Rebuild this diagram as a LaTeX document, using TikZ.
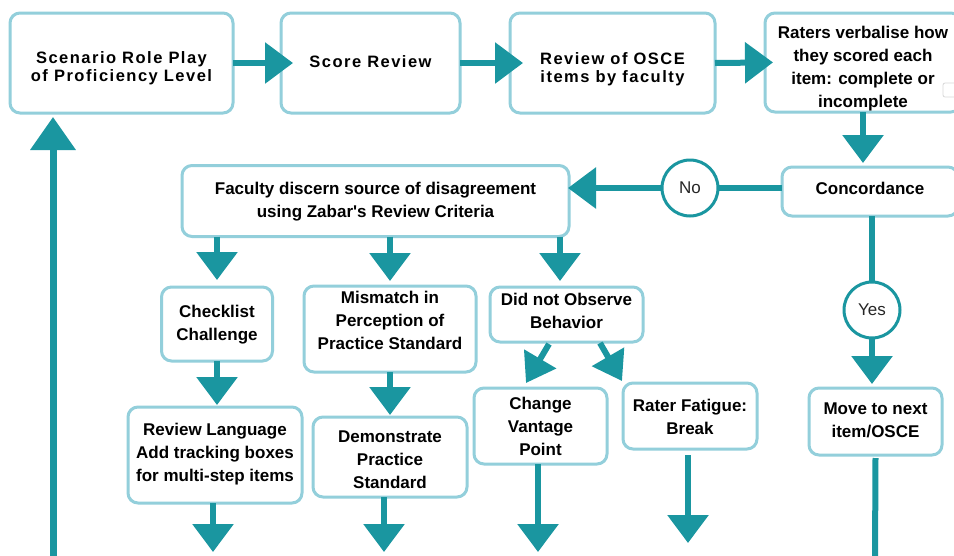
\documentclass[tikz,border=0pt]{standalone}
\usepackage{fontspec}
\setmainfont{Liberation Sans}
\usetikzlibrary{arrows.meta,calc}
\definecolor{tealc}{HTML}{1A96A0}
\definecolor{boxc}{HTML}{93CFDB}
\newcommand{\tx}[2][0pt]{\raisebox{#1}[\height][\depth]{\begin{tabular}{@{}c@{}}#2\end{tabular}}}
\newcommand{\bodyf}{\fontsize{17}{23}\selectfont\bfseries}
\newcommand{\topf}{\fontsize{16.5}{18.5}\selectfont\bfseries\addfontfeature{LetterSpace=9}}
\begin{document}
\begin{tikzpicture}[x=1pt,y=-1pt,
 box/.style={draw=boxc, line width=3pt, rounded corners=10pt, inner sep=0pt, outer sep=0pt, fill=white, font=\bodyf, text=black},
 topbox/.style={box, font=\topf},
 circ/.style={circle, draw=tealc, line width=3pt, minimum size=56pt, inner sep=0pt, outer sep=0pt, fill=white, font=\fontsize{17}{20}\selectfont, text=black!85},
 arr/.style={draw=tealc, line width=6pt, -{Triangle[length=28pt,width=40pt]}},
 link/.style={draw=tealc, line width=6pt}]
\useasboundingbox (0,0) rectangle (954,555);
\clip (0,0) rectangle (954,555);
\fill[white] (0,0) rectangle (954,555);

% nodes
\node[topbox, minimum width=223pt, minimum height=100pt] (b1) at (121.5,63) {\tx[-6pt]{Scenario Role Play\\of Proficiency Level}};
\node[topbox, minimum width=179pt, minimum height=100pt] (b2) at (370.5,63) {\tx[-1pt]{Score Review}};
\node[topbox, minimum width=205pt, minimum height=100pt] (b3) at (612.5,63) {\tx[-7pt]{Review of OSCE\\items by faculty}};
\node[box, minimum width=196pt, minimum height=99pt] (b4) at (863,62.5) {\tx[-6pt]{Raters verbalise how\\they scored each\\item: complete or\\incomplete}};
\draw[gray!30, line width=0.8pt, rounded corners=2pt] (943,83) rectangle (962,97);
\node[box, minimum width=176pt, minimum height=49pt] (conc) at (870,191.5) {\tx[2pt]{Concordance}};
\node[box, minimum width=387pt, minimum height=71pt] (fac) at (375.5,201) {\tx[0pt]{Faculty discern source of disagreement\\using Zabar\textquotesingle s Review Criteria}};
\node[circ] (no) at (690,188) {No};
\node[circ] (yes) at (872,310) {Yes};
\node[box, minimum width=111pt, minimum height=74pt] (chk) at (217,324) {\tx{Checklist\\Challenge}};
\node[box, minimum width=172pt, minimum height=86pt] (mis) at (390,329) {\tx[7pt]{Mismatch in\\Perception of\\Practice Standard}};
\node[box, minimum width=153pt, minimum height=55pt] (dno) at (566.5,314.5) {\tx[2pt]{Did not Observe\\Behavior}};
\node[box, minimum width=133pt, minimum height=76pt] (chg) at (540.5,426) {\tx[-2pt]{Change\\Vantage\\Point}};
\node[box, minimum width=134pt, minimum height=66pt] (rat) at (690,416) {\tx[-2pt]{Rater Fatigue:\\Break}};
\node[box, minimum width=133pt, minimum height=67pt] (mov) at (875.5,421.5) {\tx{Move to next\\item/OSCE}};
\node[box, minimum width=174pt, minimum height=96pt] (rl) at (215,455) {\tx[1pt]{Review Language\\Add tracking boxes\\for multi-step items}};
\node[box, minimum width=154pt, minimum height=80pt] (dem) at (390,457) {\tx[-4pt]{Demonstrate\\Practice\\Standard}};

% free ends
\coordinate (lbot) at (53,560);
\coordinate (mvend) at (875,560);
\coordinate (e1) at (213,552);
\coordinate (e2) at (384,552);
\coordinate (e3) at (538,552);
\coordinate (e4) at (688,543);

% connectors
\draw[arr, shorten >=-12pt] (b1.east) -- (b2.west);
\draw[arr, shorten >=-13pt] (b2.east) -- (b3.west);
\draw[arr, shorten >=-8pt] (b3.east) -- (b4.west);
\draw[arr, shorten >=4pt] (b4.south) -- (b4.south |- conc.north);
\draw[link] (no.east -| conc.west) -- (no.east);
\draw[arr, shorten >=-1pt] (no.west) -- (no.west -| fac.east);
\draw[link] (yes.north |- conc.south) -- (yes.north);
\draw[arr, shorten >=4pt] (yes.south) -- (yes.south |- mov.north);
\draw[link] ($(mov.south)+(0,3)$) -- (mvend);
\draw[arr, line width=7pt, -{Triangle[length=33pt,width=44pt]}, shorten >=4pt] (lbot) -- (lbot |- b1.south);

\draw[arr, shorten >=7pt] (fac.south -| chk.north) -- (chk.north);
\draw[arr, shorten >=5pt] (fac.south -| mis.north) -- (mis.north);
\draw[arr, shorten >=6pt] ($(fac.south -| dno.north)+(-6.5,0)$) -- ($(dno.north)+(-6.5,0)$);
\draw[arr, shorten >=2pt] (chk.south) -- (chk.south |- rl.north);
\draw[arr, shorten >=2pt] (mis.south) -- (mis.south |- dem.north);
\draw[arr, -{Triangle[length=28pt,width=36pt]}] ($(dno.south)+(-17.5,2)$) -- ($(chg.north)+(-14.5,-5)$);
\draw[arr, -{Triangle[length=28pt,width=36pt]}] ($(dno.south)+(33.5,1)$) -- ($(rat.north)+(-68,-2)$);

\draw[arr] (rl.south -| e1) -- (e1);
\draw[arr] (dem.south -| e2) -- (e2);
\draw[arr] (chg.south -| e3) -- (e3);
\draw[arr] ($(rat.south -| e4)+(0,6)$) -- (e4);
\end{tikzpicture}
\end{document}
